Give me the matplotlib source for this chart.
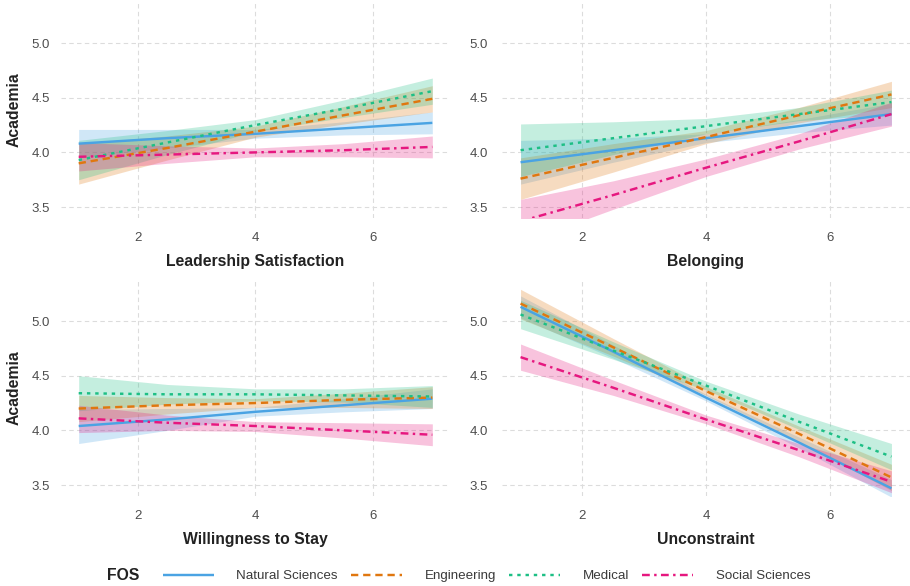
import numpy as np
import matplotlib
matplotlib.use("Agg")
import matplotlib.pyplot as plt
from matplotlib.lines import Line2D

plt.rcParams['font.family'] = ['Liberation Sans', 'DejaVu Sans']

# predicted Academia score along each predictor, with 95% band
x_pts = [1, 2.5, 4, 5.5, 7]
fos = ["Natural Sciences", "Engineering", "Medical", "Social Sciences"]
predictors = ["Leadership Satisfaction", "Belonging", "Willingness to Stay", "Unconstraint"]

# rows follow fos order
leadership_fit = [[4.08, 4.13, 4.17, 4.22, 4.27],
                  [3.90, 4.04, 4.19, 4.34, 4.49],
                  [3.93, 4.09, 4.25, 4.40, 4.56],
                  [3.96, 3.98, 4.00, 4.02, 4.05]]
leadership_lo = [[3.95, 4.04, 4.13, 4.16, 4.17],
                 [3.71, 3.93, 4.14, 4.26, 4.37],
                 [3.75, 3.98, 4.19, 4.32, 4.44],
                 [3.83, 3.90, 3.96, 3.96, 3.95]]
leadership_hi = [[4.21, 4.21, 4.21, 4.28, 4.37],
                 [4.08, 4.15, 4.24, 4.42, 4.61],
                 [4.11, 4.20, 4.30, 4.48, 4.68],
                 [4.09, 4.06, 4.04, 4.08, 4.15]]

belonging_fit = [[3.91, 4.02, 4.13, 4.24, 4.35],
                 [3.76, 3.95, 4.14, 4.34, 4.53],
                 [4.02, 4.13, 4.24, 4.35, 4.46],
                 [3.37, 3.61, 3.86, 4.10, 4.35]]
belonging_lo = [[3.71, 3.91, 4.09, 4.18, 4.25],
                [3.57, 3.82, 4.08, 4.27, 4.41],
                [3.78, 3.98, 4.17, 4.29, 4.35],
                [3.17, 3.48, 3.78, 4.03, 4.24]]
belonging_hi = [[4.11, 4.13, 4.17, 4.30, 4.45],
                [3.95, 4.08, 4.20, 4.41, 4.65],
                [4.26, 4.28, 4.31, 4.41, 4.57],
                [3.57, 3.74, 3.94, 4.17, 4.46]]

stay_fit = [[4.04, 4.10, 4.17, 4.23, 4.29],
            [4.20, 4.23, 4.25, 4.28, 4.30],
            [4.34, 4.33, 4.33, 4.32, 4.31],
            [4.11, 4.07, 4.04, 4.00, 3.96]]
stay_lo = [[3.88, 4.00, 4.13, 4.17, 4.20],
           [4.08, 4.15, 4.21, 4.21, 4.20],
           [4.18, 4.24, 4.27, 4.26, 4.21],
           [3.98, 4.00, 3.99, 3.93, 3.86]]
stay_hi = [[4.19, 4.20, 4.21, 4.29, 4.38],
           [4.32, 4.30, 4.29, 4.34, 4.40],
           [4.50, 4.42, 4.38, 4.38, 4.41],
           [4.23, 4.14, 4.08, 4.07, 4.06]]

unconstraint_fit = [[5.13, 4.72, 4.30, 3.89, 3.47],
                    [5.16, 4.76, 4.36, 3.97, 3.57],
                    [5.06, 4.73, 4.41, 4.08, 3.76],
                    [4.67, 4.39, 4.10, 3.82, 3.53]]
unconstraint_lo = [[5.03, 4.66, 4.27, 3.84, 3.39],
                   [5.02, 4.68, 4.32, 3.90, 3.45],
                   [4.93, 4.65, 4.37, 4.01, 3.64],
                   [4.55, 4.32, 4.06, 3.76, 3.43]]
unconstraint_hi = [[5.23, 4.78, 4.33, 3.94, 3.55],
                   [5.29, 4.84, 4.40, 4.04, 3.69],
                   [5.19, 4.81, 4.45, 4.15, 3.88],
                   [4.79, 4.46, 4.14, 3.88, 3.63]]

colors = ["#4AA3E3", "#E0770F", "#1DBF85", "#E6177F"]
dash_styles = [(0, ()), (0, (3, 2)), (0, (1.4, 2)), (0, (3.2, 1.8, 1, 1.8))]

panels = [(leadership_fit, leadership_lo, leadership_hi),
          (belonging_fit, belonging_lo, belonging_hi),
          (stay_fit, stay_lo, stay_hi),
          (unconstraint_fit, unconstraint_lo, unconstraint_hi)]

W, H = 910, 586
fig = plt.figure(figsize=(W / 100, H / 100), dpi=100)

# panel boxes in pixels: left, right, top, bottom
boxes = [(61, 450, 1.5, 218), (502, 910, 1.5, 218),
         (61, 450, 279.5, 496), (502, 910, 279.5, 496)]

for i, (fit, lo, hi) in enumerate(panels):
    l, r, t, b = boxes[i]
    ax = fig.add_axes([l / W, (H - b) / H, (r - l) / W, (b - t) / H])
    for k in range(len(fos)):
        ax.fill_between(x_pts, lo[k], hi[k], color=colors[k], alpha=0.26,
                        linewidth=0)
    for k in range(len(fos)):
        ax.plot(x_pts, fit[k], color=colors[k], linewidth=1.75,
                linestyle=dash_styles[k])
    ax.set_xlim(0.7, 7.3)
    ax.set_ylim(3.4, 5.38)
    ax.set_xticks([2, 4, 6])
    ax.set_yticks([3.5, 4.0, 4.5, 5.0])
    ax.set_yticklabels(["3.5", "4.0", "4.5", "5.0"])
    ax.grid(True, color="#DCDCDC", linestyle=(0, (4, 3)), linewidth=0.8)
    ax.set_axisbelow(True)
    for s in ax.spines.values():
        s.set_visible(False)
    ax.tick_params(length=0, labelsize=9.5, labelcolor="#4D4D4D")
    ax.tick_params(axis="x", pad=10)
    ax.tick_params(axis="y", pad=8 if i % 2 == 0 else 10)
    ax.set_xlabel(predictors[i], fontsize=11.3, fontweight="bold",
                  color="#222222", labelpad=7)
    if i % 2 == 0:
        ax.set_ylabel("Academia", fontsize=11.3, fontweight="bold",
                      color="#222222", labelpad=7)

# legend along the bottom
fig.text(107 / W, 1 - 576 / H, "FOS", fontsize=11.3, fontweight="bold",
         color="#222222", va="center", ha="left")
handles = [Line2D([], [], color=colors[k], linewidth=1.75,
                  linestyle=dash_styles[k]) for k in range(len(fos))]
fig.legend(handles, fos, loc="center left",
           bbox_to_anchor=(163 / W, 1 - 576 / H), ncol=4, frameon=False,
           fontsize=9.6, handlelength=3.8, handletextpad=1.7,
           columnspacing=1.0, borderpad=0, borderaxespad=0,
           labelcolor="#3A3A3A")

fig.savefig("out.png", dpi=100)
